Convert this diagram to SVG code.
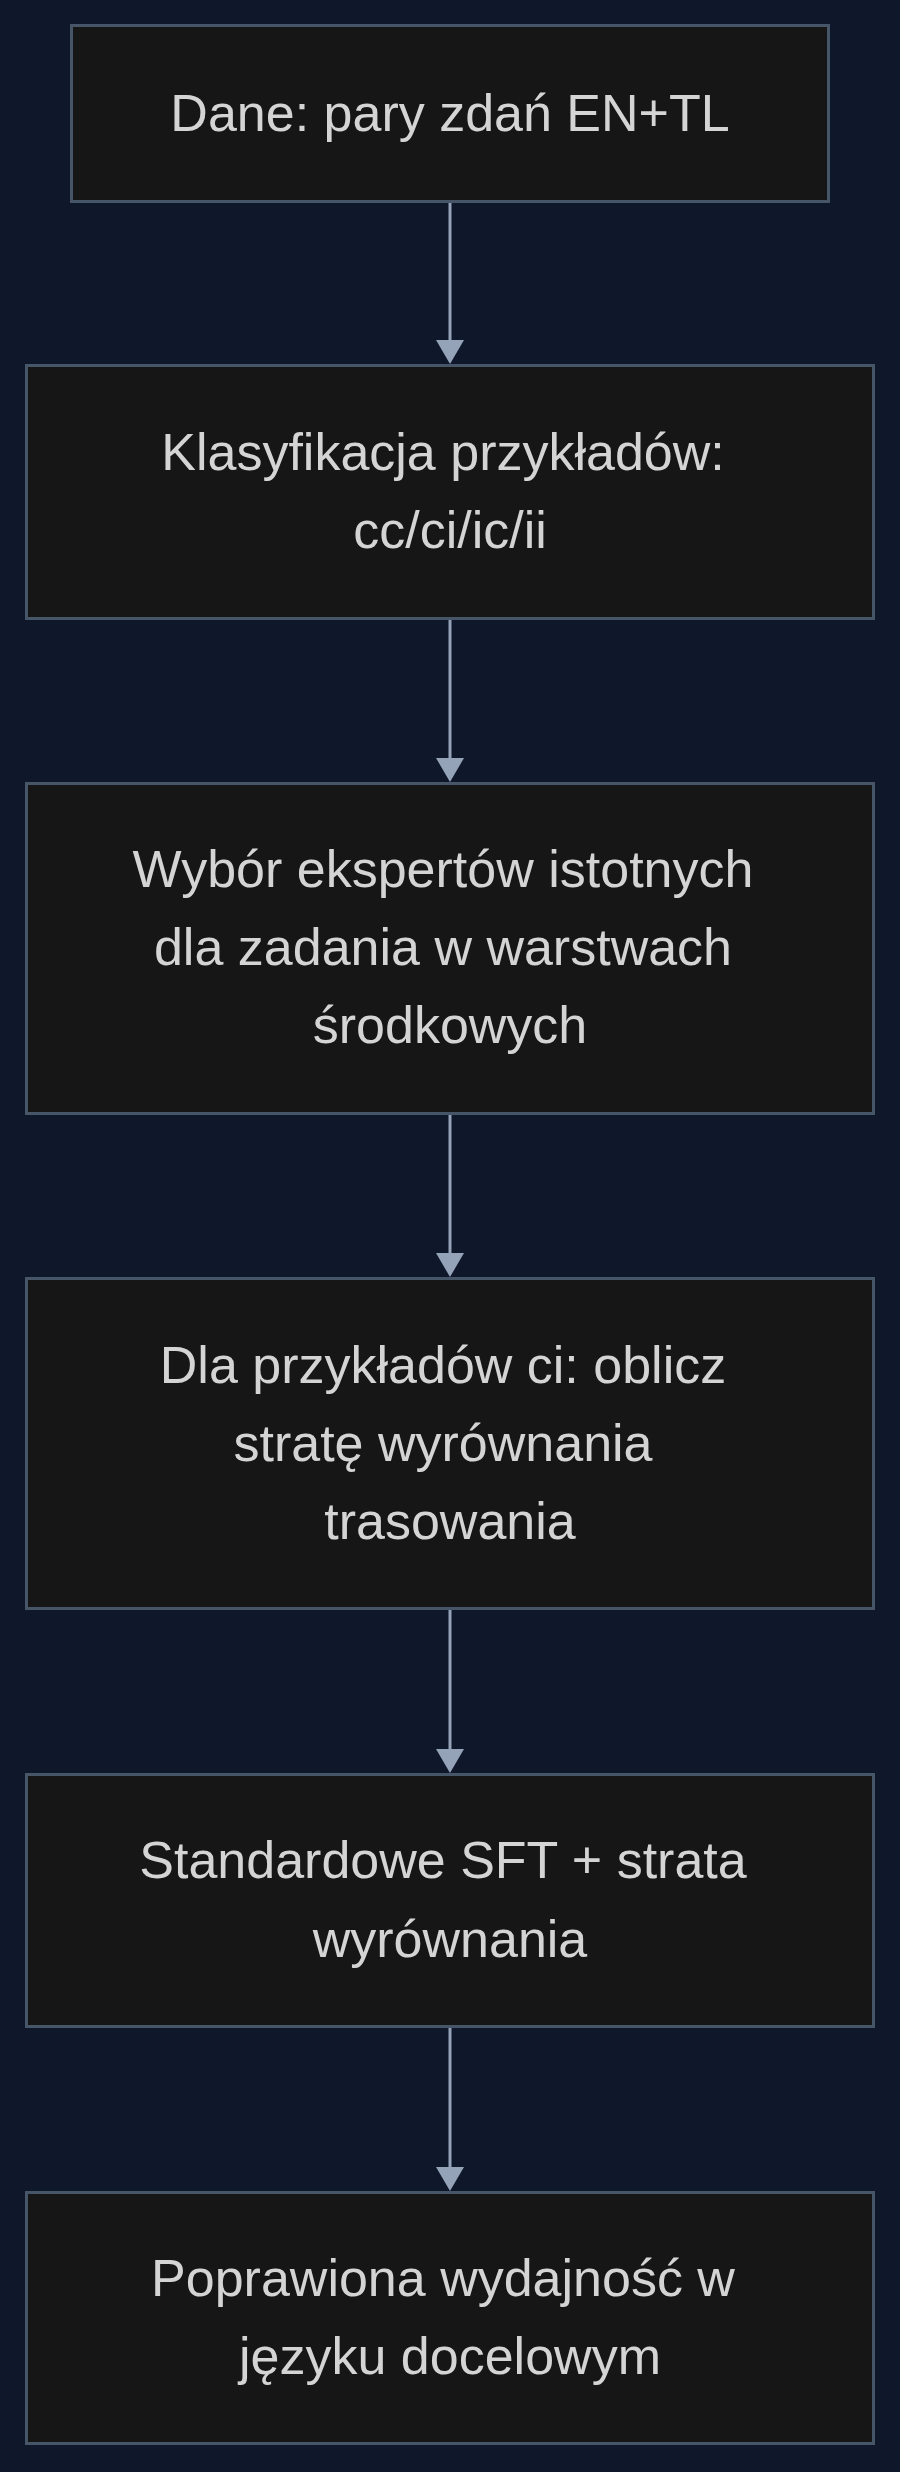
<svg xmlns="http://www.w3.org/2000/svg" width="900" height="2472" viewBox="0 0 900 2472">
<style>
.node rect{fill:#161616;stroke:#475569;stroke-width:3}
.node text{font-family:"Liberation Sans",Arial,sans-serif;font-size:52px;fill:#d4d4d4;text-anchor:middle}
.edge line{stroke:#94a3b8;stroke-width:3}
.edge polygon{fill:#94a3b8}
</style>
<rect x="0" y="0" width="900" height="2472" fill="#0f172a"/>
<g id="connectors" class="edge">
<line x1="450" y1="203" x2="450" y2="342"/><polygon points="436,340 464,340 450,364"/>
<line x1="450" y1="620" x2="450" y2="760"/><polygon points="436,758 464,758 450,782"/>
<line x1="450" y1="1115" x2="450" y2="1255"/><polygon points="436,1253 464,1253 450,1277"/>
<line x1="450" y1="1610" x2="450" y2="1751"/><polygon points="436,1749 464,1749 450,1773"/>
<line x1="450" y1="2028" x2="450" y2="2169"/><polygon points="436,2167 464,2167 450,2191"/>
</g>
<g id="n1" class="node">
<rect x="71.5" y="25.5" width="757" height="176"/>
<text x="450" y="131">Dane: pary zdań EN+TL</text>
</g>
<g id="n2" class="node">
<rect x="26.5" y="365.5" width="847" height="253"/>
<text x="443" y="470">Klasyfikacja przykładów:</text>
<text x="450" y="548">cc/ci/ic/ii</text>
</g>
<g id="n3" class="node">
<rect x="26.5" y="783.5" width="847" height="330"/>
<text x="443" y="887">Wybór ekspertów istotnych</text>
<text x="443" y="965">dla zadania w warstwach</text>
<text x="450" y="1043">środkowych</text>
</g>
<g id="n4" class="node">
<rect x="26.5" y="1278.5" width="847" height="330"/>
<text x="443" y="1383">Dla przykładów ci: oblicz</text>
<text x="443" y="1461">stratę wyrównania</text>
<text x="450" y="1539">trasowania</text>
</g>
<g id="n5" class="node">
<rect x="26.5" y="1774.5" width="847" height="252"/>
<text x="443" y="1878">Standardowe SFT + strata</text>
<text x="450" y="1957">wyrównania</text>
</g>
<g id="n6" class="node">
<rect x="26.5" y="2192.5" width="847" height="251"/>
<text x="443" y="2296">Poprawiona wydajność w</text>
<text x="450" y="2374">języku docelowym</text>
</g>
</svg>
